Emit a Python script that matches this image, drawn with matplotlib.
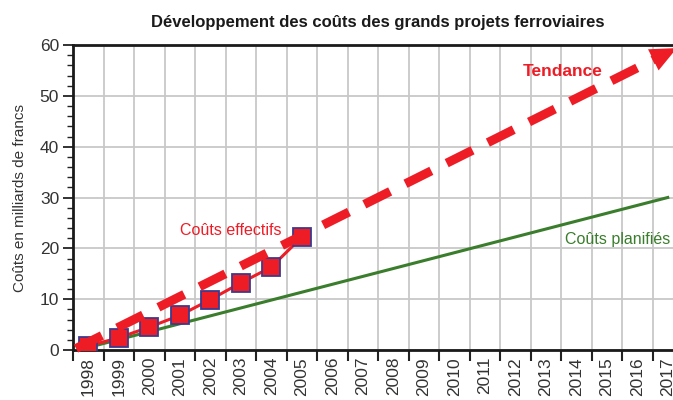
import numpy as np
import matplotlib
matplotlib.use('Agg')
import matplotlib.pyplot as plt
from matplotlib.ticker import MultipleLocator, FixedLocator, NullFormatter

# données
annees = [str(a) for a in range(1998, 2018)]
annees_eff = ["1998", "1999", "2000", "2001", "2002", "2003", "2004", "2005"]
couts_effectifs = [0.8, 2.4, 4.5, 6.8, 9.9, 13.2, 16.3, 22.2]
annees_plan = ["1998", "2017"]
couts_planifies = [0.5, 30.0]
tendance_x = [-0.4, 19.3]   # position sur l'axe (en catégories)
tendance_y = [0.3, 59.4]

ROUGE = "#ee1c25"
VERT = "#3a7d2c"
BLEU = "#3b3b8f"
GRIS = "#333333"

plt.rcParams['font.family'] = ['Liberation Sans', 'DejaVu Sans']

fig = plt.figure(figsize=(6.73, 4.0), dpi=100)
ax = fig.add_axes([73 / 673, 50 / 400, 610 / 673, 305 / 400])

pos = {a: i for i, a in enumerate(annees)}
x_eff = [pos[a] for a in annees_eff]
x_plan = [pos[a] for a in annees_plan]

# coûts planifiés
ax.plot(x_plan, couts_planifies, color=VERT, lw=2.2, zorder=3)
# coûts effectifs
ax.plot(x_eff, couts_effectifs, color=ROUGE, lw=2.2, marker="s", markersize=12.5,
        markerfacecolor=ROUGE, markeredgecolor=BLEU, markeredgewidth=1.3, zorder=4)
# tendance
ax.plot([tendance_x[0], tendance_x[1] - 0.6], [tendance_y[0], tendance_y[1] - 1.8],
        color=ROUGE, lw=6.5, dashes=(3.2, 1.9), solid_capstyle="butt",
        dash_capstyle="butt", zorder=5, clip_on=False)
ax.annotate("", xy=(tendance_x[1], tendance_y[1]),
            xytext=(tendance_x[1] - 0.8, tendance_y[1] - 2.4),
            arrowprops=dict(arrowstyle="-|>,head_length=1.9,head_width=0.85",
                            color=ROUGE, lw=0, shrinkA=0, shrinkB=0),
            zorder=6, annotation_clip=False)

ax.text(3.0, 23.5, "Coûts effectifs", color=ROUGE, fontsize=11.5, ha="left", va="center")
ax.text(14.25, 54.7, "Tendance", color=ROUGE, fontsize=12.5, fontweight="bold",
        ha="left", va="center")
ax.text(15.63, 21.8, "Coûts planifiés", color=VERT, fontsize=11.5, ha="left", va="center")

ax.set_xlim(-0.5, 19.5)
ax.set_ylim(0, 60)

# axe x : traits aux frontières, étiquettes au centre des catégories
ax.xaxis.set_major_locator(FixedLocator(np.arange(-0.5, 20, 1)))
ax.xaxis.set_major_formatter(NullFormatter())
ax.xaxis.set_minor_locator(FixedLocator(np.arange(0, 20)))
ax.set_xticklabels(annees, minor=True, rotation=90, fontsize=12.5, color=GRIS)
ax.tick_params(axis="x", which="major", direction="out", length=8, width=1.5, color="#222222")
ax.tick_params(axis="x", which="minor", length=0, pad=5)

ax.yaxis.set_major_locator(MultipleLocator(10))
ax.yaxis.set_minor_locator(MultipleLocator(2))
ax.tick_params(axis="y", which="major", direction="out", length=7, width=1.3,
               color="#222222", labelsize=12.5, labelcolor=GRIS, pad=3)
ax.tick_params(axis="y", which="minor", direction="out", length=4, width=1.0, color="#222222")

ax.grid(True, which="major", color="#c8c8c8", lw=1.3, zorder=0)
ax.set_axisbelow(True)

for cote in ["left", "bottom", "top"]:
    ax.spines[cote].set_linewidth(2.0)
    ax.spines[cote].set_color("#1a1a1a")
ax.spines["right"].set_visible(False)

ax.set_ylabel("Coûts en milliards de francs", fontsize=11, color=GRIS, labelpad=9)
ax.set_title("Développement des coûts des grands projets ferroviaires",
             fontsize=12, fontweight="bold", color="#1a1a1a", pad=13)

fig.savefig("out.png", dpi=100)
